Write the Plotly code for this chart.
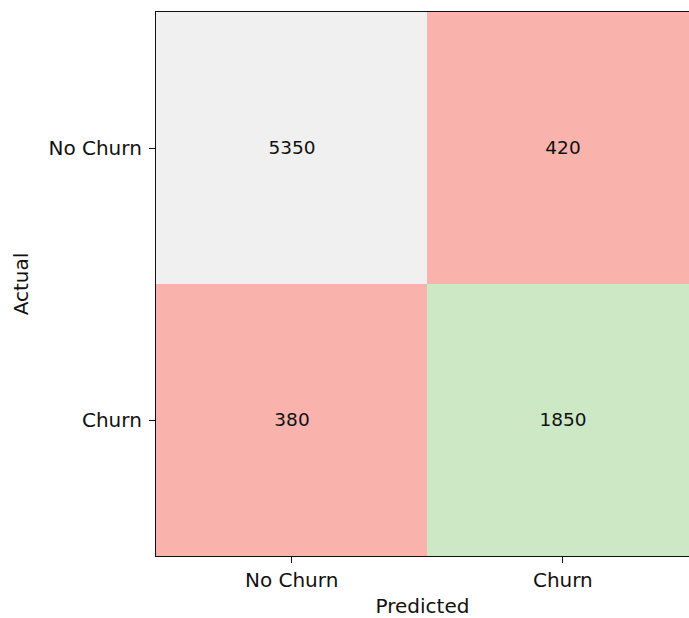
import plotly.graph_objects as go

# Data
pred_labels = ["No Churn", "Churn"]
actual_labels = ["No Churn", "Churn"]
counts = [[5350, 420],
          [380, 1850]]
# cell class: 0 = correct negative, 1 = error, 2 = correct positive
cell_class = [[0, 1],
              [1, 2]]

colorscale = [
    [0.0, "#f0f0f0"], [0.3333, "#f0f0f0"],
    [0.3333, "#f9b3ac"], [0.6667, "#f9b3ac"],
    [0.6667, "#cce8c4"], [1.0, "#cce8c4"],
]

FONT = "DejaVu Sans"

fig = go.Figure(go.Heatmap(
    x=pred_labels,
    y=actual_labels,
    z=cell_class,
    zmin=0, zmax=2,
    colorscale=colorscale,
    showscale=False,
    text=counts,
    texttemplate="%{text}",
    textfont=dict(family=FONT, size=18.5, color="#111111"),
    hoverinfo="skip",
    xgap=0, ygap=0,
))

fig.update_layout(
    width=689, height=618,
    margin=dict(l=156, r=0, t=12, b=62),
    paper_bgcolor="white",
    plot_bgcolor="white",
    font=dict(family=FONT, size=19, color="#111111"),
    showlegend=False,
)

fig.update_xaxes(
    range=[-0.5, 1.465],
    showline=True, linecolor="#111111", linewidth=1.3, mirror=True,
    ticks="outside", ticklen=6, tickwidth=1.2, tickcolor="#111111",
    showgrid=False, zeroline=False,
    tickfont=dict(family=FONT, size=20, color="#111111"),
    title=dict(text="Predicted", font=dict(family=FONT, size=20, color="#111111"), standoff=8),
)
fig.update_yaxes(
    range=[1.5, -0.5],
    showline=True, linecolor="#111111", linewidth=1.3, mirror=False,
    ticks="outside", ticklen=6, tickwidth=1.2, tickcolor="#111111",
    showgrid=False, zeroline=False,
    tickfont=dict(family=FONT, size=20, color="#111111"),
    tickangle=0,
    ticklabelstandoff=3,
    title=dict(text="Actual", font=dict(family=FONT, size=20, color="#111111"), standoff=14),
)

fig.write_html(
    "out.html",
    config={"displayModeBar": False},
    post_script="document.body.style.margin='0';document.body.style.overflow='hidden';",
)
